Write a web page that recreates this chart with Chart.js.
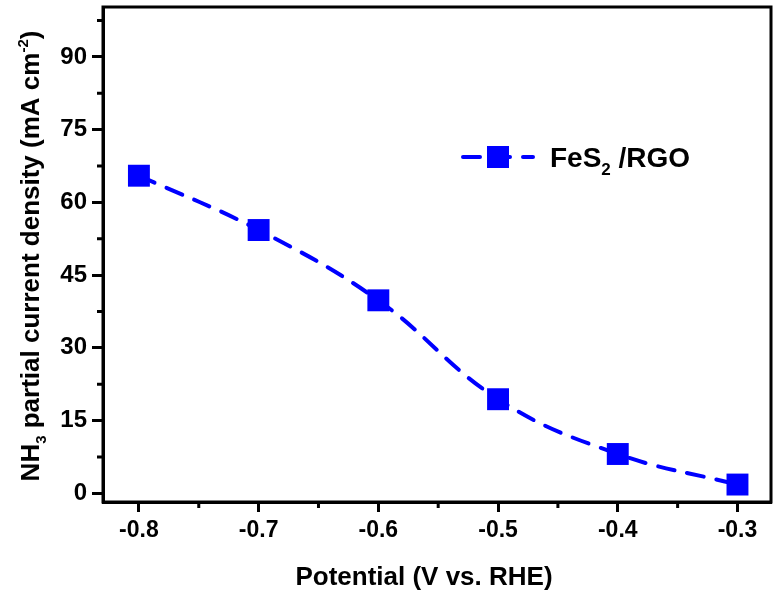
<!DOCTYPE html>
<html>
<head>
<meta charset="utf-8">
<script src="https://cdn.jsdelivr.net/npm/chart.js@4"></script>
<style>
	html, body { margin: 0; padding: 0; background: #fff; }
	#wrap { width: 773px; height: 604px; }
</style>
</head>
<body>
<div id="wrap"><canvas id="nh3Chart" width="773" height="604"></canvas></div>
<script>
const potentials = [-0.8, -0.7, -0.6, -0.5, -0.4, -0.3];
const currentDensity = [65.5, 54.3, 39.8, 19.4, 8.1, 1.8];
const xTickValues = [-0.8, -0.7, -0.6, -0.5, -0.4, -0.3];
const xMinorValues = [-0.75, -0.65, -0.55, -0.45, -0.35];
const yTickValues = [0, 15, 30, 45, 60, 75, 90];
const yMinorValues = [7.5, 22.5, 37.5, 52.5, 67.5, 82.5, 97.5];
const seriesLabel = ['FeS', '2', ' /RGO'];
const xTitle = 'Potential (V vs. RHE)';
const yTitle = ['NH', '3', ' partial current density (mA cm', '-2', ')'];

const BLUE = '#0000ff';
const FONT = '"Liberation Sans", Arial, sans-serif';

const decorPlugin = {
	id: 'decor',
	afterDraw(chart) {
		const ctx = chart.ctx;
		const area = chart.chartArea;
		const xs = chart.scales.x;
		const ys = chart.scales.y;
		ctx.save();

		// frame
		ctx.strokeStyle = '#000';
		ctx.lineWidth = 3;
		ctx.strokeRect(area.left, area.top, area.right - area.left, area.bottom - area.top);

		// minor ticks
		ctx.beginPath();
		xMinorValues.forEach(v => {
			const px = xs.getPixelForValue(v);
			ctx.moveTo(px, area.bottom);
			ctx.lineTo(px, area.bottom + 6);
		});
		yMinorValues.forEach(v => {
			const py = ys.getPixelForValue(v);
			ctx.moveTo(area.left, py);
			ctx.lineTo(area.left - 6, py);
		});
		ctx.stroke();

		// legend
		const ly = 157;
		ctx.strokeStyle = BLUE;
		ctx.lineWidth = 4;
		ctx.lineCap = 'round';
		ctx.setLineDash([17, 13]);
		ctx.beginPath();
		ctx.moveTo(463, ly);
		ctx.lineTo(533, ly);
		ctx.stroke();
		ctx.setLineDash([]);
		ctx.fillStyle = BLUE;
		ctx.fillRect(487, ly - 11, 22, 22);

		ctx.fillStyle = '#000';
		ctx.textBaseline = 'alphabetic';
		ctx.textAlign = 'left';
		let tx = 550;
		ctx.font = 'bold 28px ' + FONT;
		ctx.fillText(seriesLabel[0], tx, ly + 10);
		tx += ctx.measureText(seriesLabel[0]).width;
		ctx.font = 'bold 17px ' + FONT;
		ctx.fillText(seriesLabel[1], tx, ly + 18);
		tx += ctx.measureText(seriesLabel[1]).width;
		ctx.font = 'bold 28px ' + FONT;
		ctx.fillText(seriesLabel[2], tx, ly + 10);

		// x title
		ctx.font = 'bold 26px ' + FONT;
		ctx.textAlign = 'center';
		ctx.textBaseline = 'middle';
		ctx.fillText(xTitle, 424, 578);

		// y title (rotated, with sub/superscript)
		ctx.translate(30, 256);
		ctx.rotate(-Math.PI / 2);
		ctx.textAlign = 'left';
		ctx.textBaseline = 'alphabetic';
		const parts = [
			{ t: yTitle[0], f: 'bold 26px ', dy: 0 },
			{ t: yTitle[1], f: 'bold 15px ', dy: 7 },
			{ t: yTitle[2], f: 'bold 26px ', dy: 0 },
			{ t: yTitle[3], f: 'bold 15px ', dy: -11 },
			{ t: yTitle[4], f: 'bold 26px ', dy: 0 }
		];
		let total = 0;
		parts.forEach(p => { ctx.font = p.f + FONT; total += ctx.measureText(p.t).width; });
		let px = -total / 2;
		parts.forEach(p => {
			ctx.font = p.f + FONT;
			ctx.fillText(p.t, px, 9 + p.dy);
			px += ctx.measureText(p.t).width;
		});
		ctx.restore();
	}
};

const points = potentials.map((x, i) => ({ x: x, y: currentDensity[i] }));

const config = {
	type: 'line',
	data: {
		datasets: [{
			label: 'FeS2 /RGO',
			data: points,
			borderColor: BLUE,
			backgroundColor: BLUE,
			borderWidth: 4,
			borderDash: [17, 13],
			borderCapStyle: 'round',
			tension: 0.4,
			pointStyle: 'rect',
			pointRadius: 15.5,
			pointHoverRadius: 15.5,
			pointBorderWidth: 0,
			fill: false
		}]
	},
	options: {
		responsive: false,
		animation: false,
		layout: { autoPadding: false, padding: { top: 7, right: 2, left: 0, bottom: 0 } },
		plugins: {
			legend: { display: false },
			tooltip: { enabled: false }
		},
		scales: {
			x: {
				type: 'linear',
				min: -0.83,
				max: -0.272,
				afterBuildTicks: scale => { scale.ticks = xTickValues.map(v => ({ value: v })); },
				afterFit: scale => { scale.height = 102; scale.paddingLeft = 0; scale.paddingRight = 0; },
				ticks: {
					color: '#000',
					font: { family: FONT, size: 23, weight: 'bold' },
					padding: 5,
					maxRotation: 0,
					callback: v => v.toFixed(1)
				},
				grid: { drawOnChartArea: false, tickLength: 10, tickWidth: 3, tickColor: '#000' },
				border: { display: true, width: 3, color: '#000' }
			},
			y: {
				type: 'linear',
				min: -1.8,
				max: 100.3,
				afterBuildTicks: scale => { scale.ticks = yTickValues.map(v => ({ value: v })); },
				afterFit: scale => { scale.width = 103; scale.paddingTop = 0; scale.paddingBottom = 0; },
				ticks: {
					color: '#000',
					font: { family: FONT, size: 24, weight: 'bold' },
					padding: 5
				},
				grid: { drawOnChartArea: false, tickLength: 11, tickWidth: 3, tickColor: '#000' },
				border: { display: true, width: 3, color: '#000' }
			}
		}
	},
	plugins: [decorPlugin]
};

new Chart(document.getElementById('nh3Chart'), config);
</script>
</body>
</html>
